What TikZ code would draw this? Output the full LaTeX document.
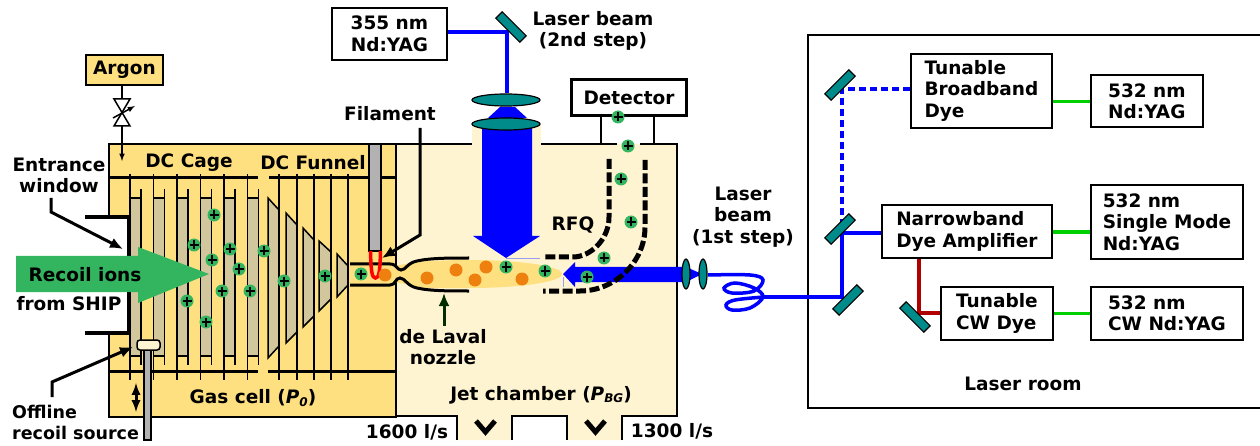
\documentclass[tikz,border=0pt]{standalone}
\usepackage{fontspec}
\setmainfont{DejaVu Sans}
\usepackage{tikz}
\usetikzlibrary{calc,shapes.geometric,arrows.meta}
\definecolor{cellyellow}{HTML}{FFE080}
\definecolor{jetcream}{HTML}{FFF4D2}
\definecolor{electan}{HTML}{D2C69C}
\definecolor{iongreen}{HTML}{33B55F}
\definecolor{dropred}{HTML}{B00000}
\definecolor{mirrorteal}{HTML}{008B8B}
\definecolor{dotorange}{HTML}{EE8010}
\definecolor{beamgreen}{HTML}{00D000}
\definecolor{pinkblue}{HTML}{9C9CF5}
\tikzset{
    txt/.style={font=\fontsize{18.5}{21.5}\selectfont\bfseries, align=center, inner sep=0pt},
    labbox/.style={draw, line width=1.8pt, fill=white, inner sep=0pt, anchor=north west, font=\fontsize{18.5}{21.5}\selectfont\bfseries, align=left},
    mirror/.style={draw, line width=1.2pt, fill=mirrorteal, rectangle, minimum width=34pt, minimum height=9pt, inner sep=0pt},
    lens/.style={draw, line width=1.2pt, fill=mirrorteal, ellipse, inner sep=0pt},
    ion/.style={circle, fill=iongreen, minimum size=13pt, inner sep=0pt, path picture={
        \draw[line width=2.2pt] ($(path picture bounding box.center)+(-4.5,0)$) -- ++(9,0);
        \draw[line width=2.2pt] ($(path picture bounding box.center)+(0,-4.5)$) -- ++(0,9);}},
    drop/.style={circle, fill=dotorange, minimum size=13pt, inner sep=0pt},
    elec/.style={draw, line width=1.5pt, fill=electan},
    callout/.style={line width=3pt, -{Latex[length=13pt,width=11pt]}},
    rfq/.style={line width=5pt, dash pattern=on 10pt off 3.5pt},
    beam/.style={blue, line width=3.5pt}
}
\begin{document}
\begin{tikzpicture}[x=1pt, y=-1pt]
    \useasboundingbox (0,0) rectangle (1260,446);

    \fill[jetcream] (396,144) -- (472,144) -- (472,124) -- (541,124) -- (541,144) -- (677,144) -- (677,416) -- (622,416) -- (622,440) -- (567,440) -- (567,416) -- (512,416) -- (512,440) -- (457,440) -- (457,416) -- (396,416) -- cycle;
    \draw[line width=2pt] (472,144) -- (396,144) -- (396,416) -- (457,416) -- (457,440);
    \draw[line width=2pt] (512,440) -- (512,416) -- (567,416) -- (567,440);
    \draw[line width=2pt] (622,440) -- (622,416) -- (677,416) -- (677,144) -- (640,144);
    \draw[line width=2pt] (617,144) -- (541,144);
    \draw[draw=black, line width=1.5pt, fill=cellyellow] (109,144) rectangle (396,417);
    \fill[white] (107,217) rectangle (128,333);
    \draw[line width=4pt] (85,217) -- (129,217) -- (129,333) -- (85,333);

    \draw[line width=3pt] (109,178) -- (258,178);
    \draw[line width=3pt] (269,178) -- (396,178);
    \draw[line width=3pt] (109,371) -- (258,371);
    \draw[line width=3pt] (268,371) -- (396,371);

    \foreach \x in {130,153.5,177,200.5,224,247.5} {
        \draw[elec] (\x,198) rectangle (\x+11,356);
        \draw[line width=1.5pt] (\x,174) -- (\x,380);
        \draw[line width=1.5pt] (\x+11,189) -- (\x+11,365);
    }
    \draw[elec] (268,198) -- (279,210) -- (279,346) -- (268,358) -- cycle;
    \draw[elec] (286,213) -- (297,225) -- (297,332) -- (286,343) -- cycle;
    \draw[elec] (303,228) -- (314,240) -- (314,316) -- (303,327) -- cycle;
    \draw[elec] (319,241) -- (331,252) -- (331,299) -- (319,311) -- cycle;
    \draw[elec] (337,254) -- (348,266) -- (348,285) -- (337,297) -- cycle;
    \foreach \x in {279,297,314,331,348} {
        \draw[line width=1.5pt] (\x,174) -- (\x,380);
    }

    \fill[cellyellow] (470,274) ellipse [x radius=92, y radius=14];
    \fill[cellyellow] (350,264) -- (392,264) -- (400,270) -- (417,261) -- (468,261) -- (468,288) -- (417,288) -- (398,278) -- (392,285) -- (350,285) -- cycle;
    \draw[line width=3pt] (350,264) -- (390,264) .. controls (397,264) and (397,270) .. (401,270) .. controls (406,270) and (407,263) .. (417,261) .. controls (430,258) and (450,258) .. (469,258);
    \draw[line width=3pt] (350,285) -- (390,285) .. controls (396,285) and (395,278) .. (400,278) .. controls (405,278) and (407,286) .. (417,288) .. controls (430,291) and (450,291) .. (469,291);

    \draw[line width=1.5pt, fill=gray!60] (369,144) rectangle (381,251);
    \draw[red, line width=3.5pt] (370.5,251) .. controls (371,272) and (372,278) .. (375.5,278) .. controls (379,278) and (380,272) .. (380.5,251);

    \foreach \x/\y in {385/275,427/278,456/270,475/280,486/267,522/279} {
        \node[drop] at (\x,\y) {};
    }

    \fill[iongreen] (16,256) -- (138,256) -- (138,247) -- (209,274) -- (138,303) -- (138,292) -- (16,292) -- cycle;

    \draw[pinkblue, line width=0.8pt] (506,258) -- (540,258);
    \draw[pinkblue, line width=0.8pt] (563,277) -- (563,287);
    \fill[blue] (482,124) -- (532,124) -- (532,236) -- (540,236) -- (506,258) -- (473,236) -- (482,236) -- cycle;
    \fill[blue] (500,107) -- (515,107) -- (527,118) -- (488,118) -- cycle;
    \fill[blue] (686,267) -- (686,282) -- (575,282) -- (575,287) -- (563,274) -- (575,262) -- (575,267) -- cycle;
    \fill[blue] (686,267) -- (702,274) -- (686,282) -- cycle;

    \node[lens, minimum width=68pt, minimum height=12pt] (lensa) at (506,100) {};
    \node[lens, minimum width=68pt, minimum height=12pt] (lensb) at (506,124) {};
    \node[lens, minimum width=8pt, minimum height=30pt] (lensc) at (686,274) {};
    \node[lens, minimum width=8pt, minimum height=30pt] (lensd) at (703,274) {};

    \draw[rfq] (609,159) -- (609,217) .. controls (609,240) and (590,257) .. (573,257) -- (543,257);
    \draw[rfq] (645,160) -- (645,227) .. controls (645,262) and (615,291) .. (580,291) -- (543,291);

    \node[labbox, line width=3pt, minimum width=115pt, minimum height=36pt, align=center] (detector) at (570,78) {Detector};
    \draw[line width=1.5pt] (601,114) -- (601,144);
    \draw[line width=1.5pt] (654,114) -- (654,144);

    \foreach \x/\y in {214/215,194/245,230/249,212/260,239/269,222/291,250/291,187/301,206/322,264/251,284/281,325/276,361/274,618/117,628/146,621/179,631/222,604/258,587/277,545/271,506/267} {
        \node[ion] at (\x,\y) {};
    }

    \draw[line width=1.5pt, fill=gray!60] (144,350) rectangle (151,440);
    \draw[line width=1.5pt, fill=jetcream, rounded corners=3pt] (137,340) rectangle (160,350);

    \node[labbox, fill=cellyellow, minimum width=77pt, minimum height=30pt, align=center] (argon) at (85,54) {Argon};
    \coordinate (gasin) at (122,161);
    \draw[line width=1.5pt] (114,99) -- (130,99) -- (114,126) -- (130,126) -- cycle;
    \draw[line width=1.5pt, -latex] (113,118) -- (135,106);
    \draw[line width=1.5pt] (argon.south -| gasin) -- (122,99);
    \draw[line width=1.5pt, -latex] (122,126) -- (gasin);
    \draw[line width=3pt, latex-latex] (136,383) -- (136,412);

    \node[labbox, minimum width=115pt, minimum height=52pt, align=center] (yagthree) at (331,7) {355 nm\\Nd:YAG};
    \coordinate (turntop) at (507,32);
    \draw[beam] (yagthree.east |- turntop) -- (turntop) -- (lensa.north -| turntop);
    \node[mirror, rotate=-45] (mirrortop) at (511,27) {};

    \draw[line width=5pt, miter limit=10] (476,421) -- (485.5,432) -- (495,421);
    \draw[line width=5pt, miter limit=10] (586,421) -- (595.5,432) -- (605,421);

    \draw[line width=2pt] (1262,35) -- (808,35) -- (808,408) -- (1262,408);

    \node[labbox, minimum width=141pt, minimum height=74pt] (broad) at (910,53) {Tunable\\Broadband\\Dye};
    \node[labbox, minimum width=112pt, minimum height=52pt] (yaga) at (1090,74.5) {532 nm\\Nd:YAG};
    \node[labbox, minimum width=170pt, minimum height=53pt] (narrow) at (881,204) {Narrowband\\Dye Amplifier};
    \node[labbox, minimum width=152pt, minimum height=74pt] (yagb) at (1090,184) {532 nm\\Single Mode\\Nd:YAG};
    \node[labbox, minimum width=112pt, minimum height=53pt] (cwdye) at (940,286) {Tunable\\CW Dye};
    \node[labbox, minimum width=152pt, minimum height=53pt] (yagc) at (1090,286) {532 nm\\CW Nd:YAG};

    \draw[beamgreen, line width=3.5pt] (broad.east |- yaga) -- (yaga.west);
    \draw[beamgreen, line width=3.5pt] (narrow.east |- 0,232) -- (yagb.west |- 0,232);
    \draw[beamgreen, line width=3.5pt] (cwdye.east) -- (yagc.west);

    \coordinate (fibreout) at (842,297);
    \coordinate (splitb) at (842,233);
    \coordinate (splita) at (842,89);
    \coordinate (dropa) at (919,313);
    \draw[beam] plot[smooth, tension=0.6] coordinates {(708,275) (750,275) (763,280) (754,291) (732,293) (724,288) (735,283) (754,288) (763,297) (750,308) (732,310) (726,305) (735,300) (764,297)};
    \draw[beam] (764,297) -- (fibreout) -- (splitb) -- (narrow.west |- splitb);
    \draw[beam, dash pattern=on 7pt off 4pt] (broad.west |- splita) -- (splita) -- (842,229);
    \draw[dropred, line width=3.5pt] (dropa |- narrow.south) -- (dropa) -- (cwdye.west |- dropa);
    \node[mirror, rotate=45] (mirrora) at (840,85) {};
    \node[mirror, rotate=45] (mirrorb) at (840,229) {};
    \node[mirror, rotate=45] (mirrorc) at (848,300) {};
    \node[mirror, rotate=-45] (mirrord) at (915,317) {};

    \node[txt] (lblwindow) at (59,175.5) {Entrance\\window};
    \node[txt] (lblrecoil) at (85,275) {Recoil ions};
    \node[txt] (lblship) at (69,304) {from SHIP};
    \node[txt, align=left, anchor=west, font=\fontsize{17.5}{21.5}\selectfont\bfseries] (lbloffline) at (12,422.5) {Offline\\recoil source};
    \node[txt] (lblcage) at (189,163) {DC Cage};
    \node[txt] (lblfunnel) at (313,163) {DC Funnel};
    \node[txt] (lblcell) at (253,398) {Gas cell (\textit{P\raisebox{-2.5pt}{\fontsize{12}{12}\selectfont 0}})};
    \node[txt] (lblfilament) at (390,114) {Filament};
    \node[txt] (lblsecond) at (593,31) {Laser beam\\(2nd step)};
    \node[txt] (lblrfq) at (573,225) {RFQ};
    \node[txt] (lbllaval) at (443,347) {de Laval\\nozzle};
    \node[txt] (lbljet) at (541,395) {Jet chamber (\textit{P\raisebox{-2.5pt}{\fontsize{12}{12}\selectfont BG}})};
    \node[txt] (lblpumpa) at (407,432) {1600 l/s};
    \node[txt] (lblpumpb) at (672,431) {1300 l/s};
    \node[txt] (lblfirst) at (743,217) {Laser\\beam\\(1st step)};
    \node[txt] (lblroom) at (1023,384) {Laser room};

    \coordinate (tipwindow) at (123,249);
    \coordinate (tipoffline) at (133,347);
    \coordinate (tipfilament) at (382,258);
    \coordinate (tipnozzle) at (444,293);
    \draw[callout] (51,198) -- (51,212) -- (tipwindow);
    \draw[callout] (52,397) -- (52,382) -- (tipoffline);
    \draw[callout] (420,128) -- (420,235) -- (tipfilament);
    \draw[callout, black!70!green!60!black] (444,326) -- (tipnozzle);
\end{tikzpicture}
\end{document}
